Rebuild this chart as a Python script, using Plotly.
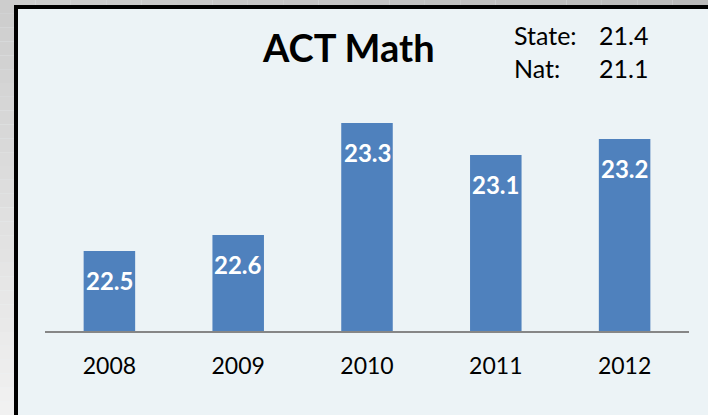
import plotly.graph_objects as go

# ---- data ----
years = ["2008", "2009", "2010", "2011", "2012"]
scores = [22.5, 22.6, 23.3, 23.1, 23.2]
chart_title = "ACT Math"
benchmark_labels = ["State:", "Nat:"]
benchmark_values = [21.4, 21.1]

# ---- layout geometry (pixels) ----
W, H = 708, 415
L, R, T, B = 45, 19, 40, 84
PW, PH = W - L - R, H - T - B
Y0 = 22.0
PX_PER_UNIT = 160.0
y_top = Y0 + PH / PX_PER_UNIT


def px(x):
    return (x - L) / PW


def py(y):
    return (H - B - y) / PH


FONT = "Lato"
BAR = "#4F81BD"
INNER = "#ECF3F6"

fig = go.Figure()
fig.add_trace(go.Bar(
    x=years, y=scores,
    marker=dict(color=BAR, line=dict(width=0)),
    width=0.4, hoverinfo="skip",
))

shapes = []
# gray gradient background strips (left and top)
n = 30
for i in range(n):
    y0p = i * H / n
    y1p = (i + 1) * H / n
    t = (i + 0.5) / n
    g = int(205 + (242 - 205) * t)
    col = f"rgb({g},{g},{g})"
    shapes.append(dict(type="rect", xref="paper", yref="paper", layer="below",
                       x0=px(0), x1=px(14), y0=py(y1p), y1=py(y0p),
                       fillcolor=col, line=dict(width=0)))
m = 20
for i in range(m):
    x0p = i * W / m
    x1p = (i + 1) * W / m
    t = i / m
    g = int(205 - 20 * t)
    col = f"rgb({g},{g},{g})"
    shapes.append(dict(type="rect", xref="paper", yref="paper", layer="below",
                       x0=px(x0p), x1=px(x1p), y0=py(5), y1=py(0),
                       fillcolor=col, line=dict(width=0)))
# black frame (left and top edges)
shapes.append(dict(type="rect", xref="paper", yref="paper", layer="below",
                   x0=px(14), x1=px(18), y0=py(H), y1=py(5),
                   fillcolor="black", line=dict(width=0)))
shapes.append(dict(type="rect", xref="paper", yref="paper", layer="below",
                   x0=px(14), x1=px(W), y0=py(9), y1=py(5),
                   fillcolor="black", line=dict(width=0)))

annotations = []
# data labels inside bars
for i, v in enumerate(scores):
    annotations.append(dict(x=i, y=v, xref="x", yref="y", text=f"<b>{v:.1f}</b>",
                            showarrow=False, yanchor="middle", yshift=-29,
                            font=dict(family=FONT, size=24, color="white")))
# title
annotations.append(dict(x=px(348), y=py(47), xref="paper", yref="paper",
                        text=f"<b>{chart_title}</b>", showarrow=False,
                        xanchor="center", yanchor="middle",
                        font=dict(family=FONT, size=38, color="black")))
# benchmark text
for i, (lab, val) in enumerate(zip(benchmark_labels, benchmark_values)):
    yc = 35 + i * 33
    annotations.append(dict(x=px(512), y=py(yc), xref="paper", yref="paper",
                            text=lab, showarrow=False, xanchor="left", yanchor="middle",
                            font=dict(family=FONT, size=25, color="black")))
    annotations.append(dict(x=px(597), y=py(yc), xref="paper", yref="paper",
                            text=f"{val:.1f}", showarrow=False, xanchor="left", yanchor="middle",
                            font=dict(family=FONT, size=25, color="black")))

fig.update_layout(
    width=W, height=H,
    margin=dict(l=L, r=R, t=T, b=B, pad=0, autoexpand=False),
    paper_bgcolor=INNER, plot_bgcolor="rgba(0,0,0,0)",
    showlegend=False,
    shapes=shapes, annotations=annotations,
    xaxis=dict(type="category", range=[-0.5, 4.5], automargin=False,
               showline=True, linecolor="#868686", linewidth=1.5,
               ticks="outside", ticklen=14, tickcolor="rgba(0,0,0,0)",
               tickfont=dict(family=FONT, size=23, color="black"),
               showgrid=False, zeroline=False, fixedrange=True),
    yaxis=dict(range=[Y0, y_top], visible=False, showgrid=False, automargin=False,
               zeroline=False, fixedrange=True),
)

fig.write_html("out.html", config={"displayModeBar": False},
               post_script="document.body.style.margin='0px';document.body.style.overflow='hidden';")
